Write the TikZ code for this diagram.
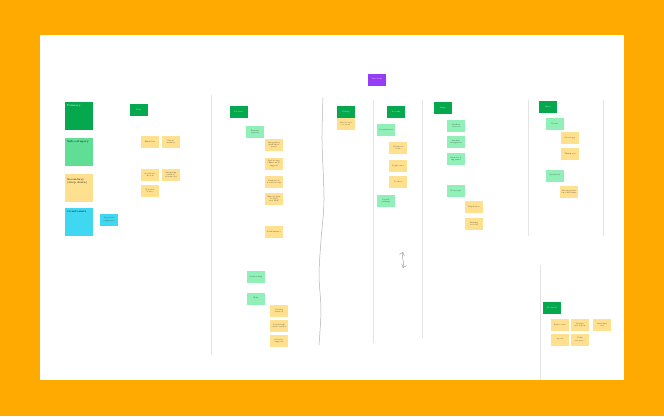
\documentclass[tikz,border=0pt]{standalone}
\usepackage{xcolor}
\usetikzlibrary{arrows.meta}
\definecolor{frame}{RGB}{255,170,0}
\definecolor{headgreen}{RGB}{6,168,77}
\definecolor{subgreen}{RGB}{144,240,184}
\definecolor{legendgreen}{RGB}{96,222,150}
\definecolor{noteyellow}{RGB}{255,224,143}
\definecolor{notecyan}{RGB}{64,216,240}
\definecolor{notepurple}{RGB}{150,60,245}
\definecolor{divider}{RGB}{228,228,228}

\tikzset{
  card/.style={minimum width=18pt, minimum height=12pt, inner sep=0.5pt,
    text width=15pt, align=center, font=\fontsize{1.8}{2.2}\selectfont},
  note/.style={card, fill=noteyellow, text=black!80},
  sub/.style={card, fill=subgreen, text=black!80},
  head/.style={card, fill=headgreen, text=white},
  legend/.style={minimum width=28pt, minimum height=28pt, inner sep=2pt,
    text width=24pt, align=left, text height=2.5pt, text depth=21.5pt,
    font=\fontsize{2.8}{3.4}\selectfont},
  divide/.style={divider, line width=0.8pt}
}

\begin{document}
\begin{tikzpicture}[x=1pt,y=-1pt]
\useasboundingbox (0,0) rectangle (664,416);
\fill[frame] (0,0) rectangle (664,416);
\fill[white] (40,35) rectangle (624,380);

% column dividers
\draw[divide] (211,95) -- (211,355);
\draw[divide] (373,100) -- (373,343);
\draw[divide] (422,100) -- (422,338);
\draw[divide] (528,100) -- (528,236);
\draw[divide] (603,100) -- (603,236);
\draw[divide] (540,265) -- (540,380);
\draw[gray!60, line width=0.5pt] plot[smooth] coordinates
  {(323,98) (322,140) (324,200) (321,240) (319,275) (321,310) (319,345)};

% top
\node[card, fill=notepurple, text=white] (top) at (377,79.5) {Taxonomy};

% legend
\node[legend, fill=headgreen, text=white] (primary) at (79,115.5) {Primary};
\node[legend, fill=legendgreen] (subcat) at (79,152) {Sub-category};
\node[legend, fill=noteyellow, text depth=18pt] (second) at (79,188) {Secondary (drop down)};
\node[legend, fill=notecyan] (constr) at (79,222) {Constraints};
\node[card, fill=notecyan, text=black!80] (legal) at (109,219.5) {Legal and compliance};

% column 1
\node[head] (data) at (138.5,110) {Data};
\node[note] (n1a) at (150,142) {Email list};
\node[note] (n1b) at (171,142) {Phone number};
\node[note] (n1c) at (150,175) {Social media ads};
\node[note] (n1d) at (171,175) {Marketing attribution model};
\node[note] (n1e) at (150,191) {Referral source};

% column 2
\node[head] (product) at (238.5,112) {Product};
\node[sub] (feat) at (255,132) {Feature request};
\foreach \y/\t in {145/Integration with third party,
    163.5/Mobile app offline mode support,
    182/Dark mode for all screens,
    199/Export data to CSV and PDF,
    232/Performance}
  \node[note] (n2-\y) at (274,\y) {\t};
\node[sub] (onboard) at (256,277) {Onboarding};
\node[sub] (help) at (256,298.5) {Help};
\foreach \y/\t in {311/Getting started,
    326/Search help centre articles,
    341/Contact support}
  \node[note] (n3-\y) at (279,\y) {\t};

% column 3
\node[head] (billing) at (346,112) {Billing};
\node[note] (n4) at (346,124) {Invoice not received};

% column 4
\node[head] (account) at (396,112) {Account};
\node[sub] (access) at (386,130) {Access issues};
\foreach \y/\t in {148/Password reset,
    166/Login error,
    181.5/Locked}
  \node[note] (n5-\y) at (398,\y) {\t};
\node[sub] (settings) at (386,201) {Profile settings};
\coordinate (upA) at (403,252);
\coordinate (dnA) at (403,268);
\draw[gray!70, line width=0.5pt, {Straight Barb[length=3pt,width=5pt]}-{Straight Barb[length=3pt,width=5pt]}]
  (upA) .. controls (401,258) and (405,262) .. (dnA);

% column 5
\node[head] (bugs) at (443,108) {Bugs};
\foreach \y/\t in {126/Crashes on load,
    142/Broken navigation,
    159/Slow loading times,
    191/Data sync}
  \node[sub] (s6-\y) at (456,\y) {\t};
\node[note] (n6a) at (474,207) {Duplicates};
\node[note] (n6b) at (474,224) {Missing records};

% column 6
\node[head] (other) at (548,107) {Other};
\node[sub] (praise) at (555,124) {Praise};
\node[note] (n7a) at (570,138) {Great app};
\node[note] (n7b) at (570,154) {Thank you};
\node[sub] (general) at (555,175.5) {Questions};
\node[note] (n7c) at (569,192) {Pricing plans and discounts};

% column 7
\node[head] (feedback) at (552,308) {Feedback};
\node[note] (n8a) at (560,325) {Ease of use};
\node[note] (n8b) at (580,325) {Design and layout};
\node[note] (n8c) at (602,325) {Customer care};
\node[note] (n8d) at (560,339.5) {Speed};
\node[note] (n8e) at (580,339.5) {Value for price};
\end{tikzpicture}
\end{document}
